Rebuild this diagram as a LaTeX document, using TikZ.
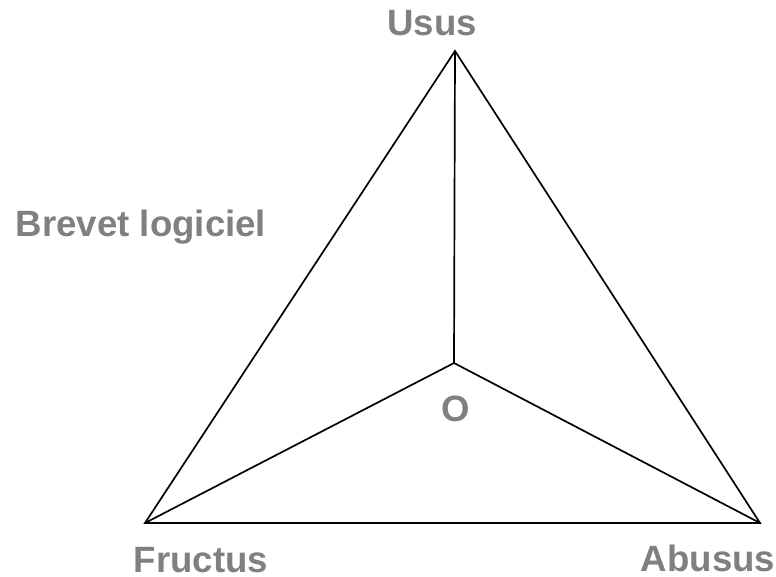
\documentclass[tikz,border=0pt]{standalone}
\usepackage{fontspec}
\setmainfont{Liberation Sans}
\definecolor{labelgray}{HTML}{808080}
\begin{document}
\begin{tikzpicture}[x=0.5pt,y=-0.5pt,
  edge/.style={draw=black,line width=0.85pt,line join=miter},
  lbl/.style={text=labelgray,font=\fontsize{18.3pt}{20pt}\selectfont\bfseries,anchor=base,inner sep=0pt}]
\useasboundingbox (0,0) rectangle (776,577);
\coordinate (U) at (455,51);
\coordinate (F) at (145,523);
\coordinate (A) at (760,523);
\coordinate (C) at (454,363);
\draw[edge] (U) -- (F) -- (A) -- cycle;
\draw[edge] (U) -- (C);
\draw[edge] (F) -- (C);
\draw[edge] (A) -- (C);
\node[lbl] (usus) at (432,36) {Usus};
\node[lbl] (fructus) at (201,572) {Fructus};
\node[lbl] (abusus) at (708,571) {Abusus};
\node[lbl] (o) at (456,421) {O};
\node[lbl] (brevet) at (141,237) {Brevet logiciel};
\end{tikzpicture}
\end{document}
